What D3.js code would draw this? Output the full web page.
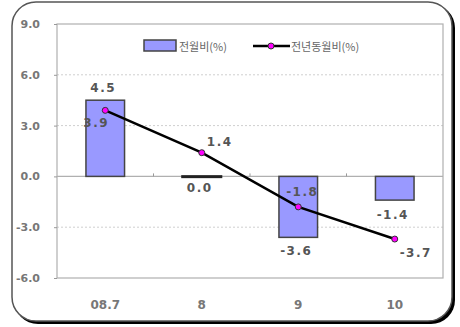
<!DOCTYPE html>
<html>
<head>
<meta charset="utf-8">
<script src="https://cdn.jsdelivr.net/npm/d3@7"></script>
<style>
  html, body { margin: 0; padding: 0; background: #fff; }
  svg { display: block; }
  .num { font-family: "DejaVu Sans", sans-serif; }
  .kr { font-family: "Noto Sans CJK KR", sans-serif; }
</style>
</head>
<body>
<svg id="chart" width="460" height="327"></svg>
<script>
// Monthly price change, percent
const categories = ["08.7", "8", "9", "10"];
const momValues = [4.5, 0.0, -3.6, -1.4];   // 전월비(%)
const yoyValues = [3.9, 1.4, -1.8, -3.7];   // 전년동월비(%)
const yTicks = [9, 6, 3, 0, -3, -6];
const seriesNames = ["전월비(%)", "전년동월비(%)"];

const svg = d3.select("#chart");

// rounded frame with a dark drop edge on the right and bottom
svg.append("rect")
  .attr("x", 14).attr("y", 4).attr("width", 441).attr("height", 320)
  .attr("rx", 24).attr("fill", "#000");
svg.append("rect")
  .attr("x", 12).attr("y", 2).attr("width", 440).attr("height", 319)
  .attr("rx", 24).attr("fill", "#fff").attr("stroke", "#555").attr("stroke-width", 1.5);

const plot = { left: 57, right: 443, top: 24, bottom: 278 };

const x = d3.scaleBand().domain(categories)
  .range([plot.left, plot.right]).paddingInner(0.6).paddingOuter(0.3);
const xBand = d3.scaleBand().domain(categories).range([plot.left, plot.right]);
const y = d3.scaleLinear().domain([-6, 9]).range([plot.bottom, plot.top]);

// dashed gridlines
svg.append("g").selectAll("line")
  .data(yTicks.filter(t => t !== 0 && t !== 9 && t !== -6))
  .join("line")
  .attr("x1", plot.left).attr("x2", plot.right)
  .attr("y1", d => y(d)).attr("y2", d => y(d))
  .attr("stroke", "#cfcfcf").attr("stroke-dasharray", "2,2");

// plot border
svg.append("rect")
  .attr("x", plot.left).attr("y", plot.top)
  .attr("width", plot.right - plot.left).attr("height", plot.bottom - plot.top)
  .attr("fill", "none").attr("stroke", "#b0b0b0").attr("stroke-width", 1.2);

// y axis labels
const yAxis = d3.axisLeft(y).tickValues(yTicks).tickSize(3).tickPadding(14)
  .tickFormat(d3.format(".1f"));
const gy = svg.append("g").attr("transform", `translate(${plot.left},0)`).call(yAxis);
gy.select(".domain").remove();
gy.selectAll(".tick line").attr("stroke", "#999");
gy.selectAll("text").attr("class", "num").attr("fill", "#777")
  .attr("font-size", 11).attr("font-weight", "bold").text(d => d3.format(".1f")(d).replace("−", "-"));

// zero line with category separators
svg.append("line")
  .attr("x1", plot.left).attr("x2", plot.right)
  .attr("y1", y(0)).attr("y2", y(0))
  .attr("stroke", "#b0b0b0").attr("stroke-width", 1.2);
svg.append("g").selectAll("line")
  .data(categories.slice(1))
  .join("line")
  .attr("x1", d => xBand(d)).attr("x2", d => xBand(d))
  .attr("y1", y(0)).attr("y2", y(0) - 3)
  .attr("stroke", "#999");

// x labels
svg.append("g").selectAll("text")
  .data(categories)
  .join("text")
  .attr("class", "num")
  .attr("x", d => xBand(d) + xBand.bandwidth() / 2)
  .attr("y", 309)
  .attr("text-anchor", "middle")
  .attr("fill", "#777").attr("font-size", 12).attr("font-weight", "bold")
  .text(d => d);

// bars (a zero value still shows as a flat outlined bar)
svg.append("g").selectAll("rect")
  .data(momValues)
  .join("rect")
  .attr("x", (d, i) => x(categories[i]))
  .attr("width", x.bandwidth())
  .attr("y", d => y(Math.max(0, d)))
  .attr("height", d => Math.max(0.5, Math.abs(y(d) - y(0))))
  .attr("fill", "#9999ff")
  .attr("stroke", d => d === 0 ? "#222" : "#444")
  .attr("stroke-width", d => d === 0 ? 2.5 : 1.5);

// line
const cx = (d, i) => xBand(categories[i]) + xBand.bandwidth() / 2;
svg.append("path")
  .datum(yoyValues)
  .attr("d", d3.line().x(cx).y(d => y(d)))
  .attr("fill", "none").attr("stroke", "#000").attr("stroke-width", 2.5);
svg.append("g").selectAll("circle")
  .data(yoyValues)
  .join("circle")
  .attr("cx", cx).attr("cy", d => y(d))
  .attr("r", 3).attr("fill", "#ff00ff").attr("stroke", "#333").attr("stroke-width", 1);

// value labels
const fmt = v => d3.format(".1f")(v).replace("−", "-");
const barLabelShift = [-12, 12, 14, 15];
const lineLabelShift = [[-9, 13], [18, -11], [4, -15], [21, 14]];
const labelStyle = sel => sel.attr("class", "num").attr("text-anchor", "middle")
  .attr("dominant-baseline", "central")
  .attr("fill", "#555").attr("font-size", 12).attr("font-weight", "bold")
  .attr("letter-spacing", 1.5);

svg.append("g").selectAll("text")
  .data(momValues)
  .join("text")
  .attr("x", (d, i) => cx(d, i) - 2)
  .attr("y", (d, i) => y(d) + barLabelShift[i])
  .call(labelStyle)
  .text(fmt);

svg.append("g").selectAll("text")
  .data(yoyValues)
  .join("text")
  .attr("x", (d, i) => cx(d, i) + lineLabelShift[i][0])
  .attr("y", (d, i) => y(d) + lineLabelShift[i][1])
  .call(labelStyle)
  .text(fmt);

// legend
const lg = svg.append("g");
lg.append("rect").attr("x", 144).attr("y", 40).attr("width", 32).attr("height", 11)
  .attr("fill", "#9999ff").attr("stroke", "#444").attr("stroke-width", 1.5);
lg.append("text").attr("class", "kr").attr("x", 179).attr("y", 46)
  .attr("dominant-baseline", "central").attr("fill", "#666").attr("font-size", 11)
  .text(seriesNames[0]);
lg.append("line").attr("x1", 253).attr("x2", 290).attr("y1", 46).attr("y2", 46)
  .attr("stroke", "#000").attr("stroke-width", 2.5);
lg.append("circle").attr("cx", 271).attr("cy", 46).attr("r", 3)
  .attr("fill", "#ff00ff").attr("stroke", "#333");
lg.append("text").attr("class", "kr").attr("x", 291).attr("y", 46)
  .attr("dominant-baseline", "central").attr("fill", "#666").attr("font-size", 11)
  .text(seriesNames[1]);
</script>
</body>
</html>
